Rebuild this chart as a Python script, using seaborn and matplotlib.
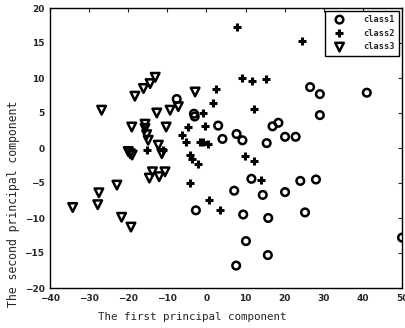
import matplotlib
matplotlib.use("Agg")
import matplotlib.pyplot as plt
import seaborn as sns
import pandas as pd

class1_x = [50.0, 26.5, 29.0, 41.0, 29.0, 22.8, 24.0, 28.0, 25.2, 3.0, 4.1, 7.7, 9.2,
            15.4, 16.9, 18.4, 20.1, -7.6, -3.2, -3.0, -2.7, 7.1, 11.5, 14.4, 20.1,
            9.4, 15.8, 10.1, 15.7, 7.6]
class1_y = [-12.8, 8.7, 7.7, 7.9, 4.7, 1.6, -4.7, -4.5, -9.2, 3.2, 1.3, 2.0, 1.1,
            0.7, 3.1, 3.6, 1.6, 7.0, 4.9, 4.5, -8.9, -6.1, -4.4, -6.7, -6.3,
            -9.5, -10.0, -13.3, -15.3, -16.8]

class2_x = [7.9, 24.4, 9.2, 11.6, 15.2, 2.4, 1.8, 12.2, -0.9, -0.4, -0.9, 0.5, 9.9,
            12.2, -2.1, -4.2, 0.7, 3.5, 14.0, -4.6, -6.3, -5.1, -1.6, -4.2, -3.8,
            -15.3, -11.0]
class2_y = [17.3, 15.3, 10.0, 9.6, 9.9, 8.4, 6.4, 5.6, 5.0, 3.1, 0.8, 0.6, -1.1,
            -1.9, -2.3, -5.0, -7.4, -8.9, -4.6, 3.0, 1.9, 0.9, 0.9, -1.0, -1.5,
            -0.3, -0.3]

class3_x = [-13.1, -14.4, -16.1, -18.3, -26.8, -2.9, -12.7, -9.3, -7.2, -19.1, -15.7,
            -15.7, -10.3, -15.3, -14.9, -12.3, -11.4, -20.0, -19.5, -19.0, -34.2,
            -27.8, -27.5, -22.9, -21.7, -19.3, -14.6, -13.8, -12.1, -10.6]
class3_y = [10.1, 9.2, 8.5, 7.4, 5.4, 8.0, 5.0, 5.4, 5.9, 3.0, 3.4, 2.8, 3.0, 1.9,
            1.1, 0.4, -0.8, -0.5, -0.8, -1.0, -8.5, -8.1, -6.4, -5.3, -9.9, -11.3,
            -4.3, -3.4, -4.1, -3.4]

class_names = ["class1", "class2", "class3"]
x_ticks = [-40, -30, -20, -10, 0, 10, 20, 30, 40, 50]
y_ticks = [-20, -15, -10, -5, 0, 5, 10, 15, 20]

df = pd.concat([
    pd.DataFrame({"x": class1_x, "y": class1_y, "cls": class_names[0]}),
    pd.DataFrame({"x": class2_x, "y": class2_y, "cls": class_names[1]}),
    pd.DataFrame({"x": class3_x, "y": class3_y, "cls": class_names[2]}),
])

sns.set_style("white")
plt.rcParams["font.family"] = ["DejaVu Sans"]

fig = plt.figure(figsize=(4.06, 3.28), dpi=100)
ax = fig.add_axes([50 / 406, 40 / 328, 352 / 406, 280 / 328])

styles = {
    "class1": dict(marker="o", s=30, facecolor="none", edgecolor="black", linewidth=1.8),
    "class2": dict(marker="+", s=32, color="black", linewidth=2.2),
    "class3": dict(marker="v", s=38, facecolor="none", edgecolor="black", linewidth=1.8),
}
for name in class_names:
    sub = df[df["cls"] == name]
    sns.scatterplot(data=sub, x="x", y="y", ax=ax, label=name, **styles[name])

ax.set_xlim(-40, 50)
ax.set_ylim(-20, 20)
ax.set_xticks(x_ticks)
ax.set_yticks(y_ticks)
ax.tick_params(direction="in", top=True, right=True, length=3, width=0.8,
               labelsize=6.5, pad=4)
for lab in ax.get_xticklabels() + ax.get_yticklabels():
    lab.set_fontweight("bold")
for sp in ax.spines.values():
    sp.set_color("black")
    sp.set_linewidth(1.0)

ax.set_xlabel("The first principal component", family="DejaVu Sans Mono",
              fontsize=7.8)
ax.xaxis.set_label_coords(0.403, -0.085)
ax.set_ylabel("The second principal component", family="DejaVu Sans Mono",
              fontsize=8.3)
ax.yaxis.set_label_coords(-0.085, 0.30)

leg = ax.legend(loc="upper right", fancybox=False, framealpha=1, edgecolor="black",
                prop={"family": "DejaVu Sans Mono", "size": 6.2, "weight": "bold"},
                borderaxespad=0.3, handletextpad=1.6, labelspacing=0.55,
                borderpad=0.5, handlelength=2.4)
leg.get_frame().set_linewidth(1.0)

fig.savefig("out.png", dpi=100)
